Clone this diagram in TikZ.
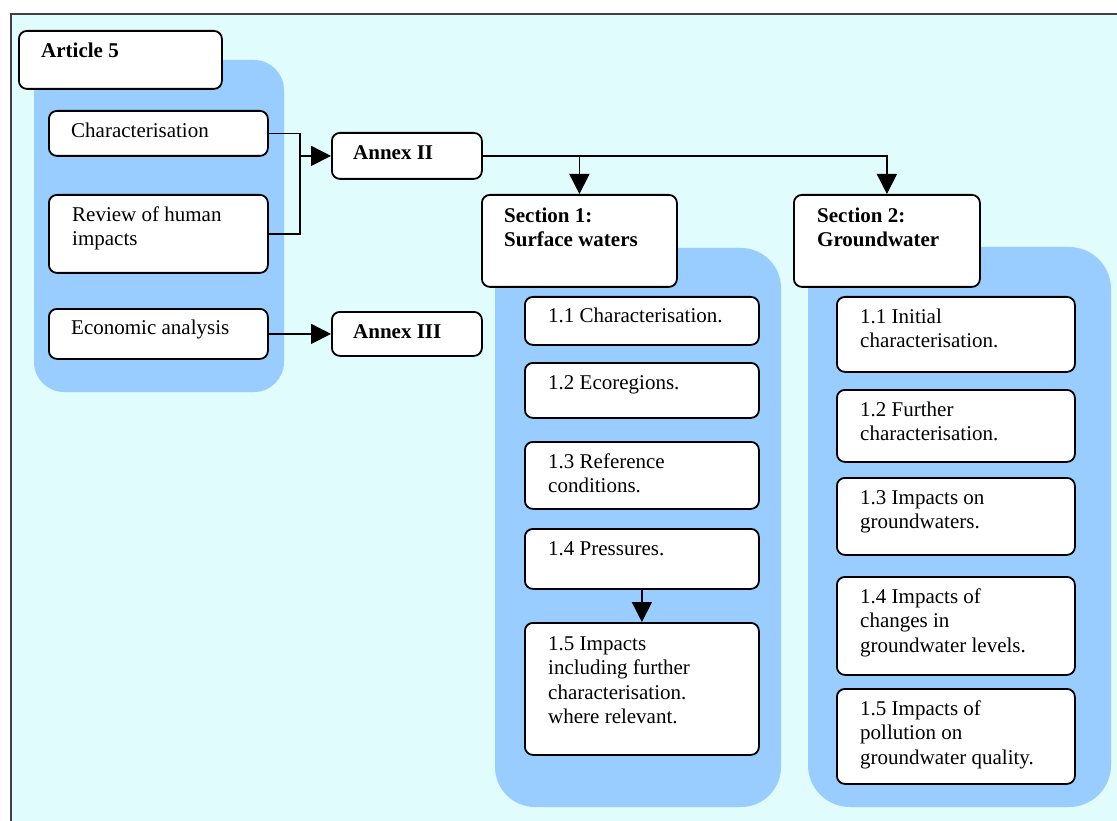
\documentclass[tikz,border=0pt]{standalone}
\usepackage{fontspec}
\setmainfont{Liberation Serif}
\usetikzlibrary{arrows.meta}
\definecolor{skyfill}{RGB}{224,252,252}
\definecolor{panelblue}{RGB}{153,204,255}
\begin{document}
\begin{tikzpicture}[x=1pt,y=-1pt,
  frame/.style={draw=black!75,line width=2pt,fill=skyfill},
  panel/.style={fill=panelblue,rounded corners=#1},
  box/.style={draw,line width=1.8pt,fill=white,rounded corners=8pt,anchor=north west,inner sep=0pt},
  txt/.style={anchor=north west,inner sep=0pt,align=left,font=\fontsize{21}{24.5}\selectfont},
  hd/.style={txt,font=\fontsize{21}{24.5}\selectfont\bfseries},
  link/.style={line width=1.6pt},
  arr/.style={link,-{Triangle[length=20pt,width=20pt]}}]
\useasboundingbox (0,0) rectangle (1117,821);
\draw[frame] (11,14) rectangle (1130,830);
% shaded groups
\fill[panel=30pt] (34,60) rectangle (284,392);
\fill[panel=40pt] (495,248) rectangle (781,807);
\fill[panel=42pt] (808,247) rectangle (1111,807);
% Article 5
\node[box,minimum width=203pt,minimum height=58pt] (art) at (18,30) {};
\node[hd] (art-t) at ([shift={(23,10)}]art.north west) {\strut Article 5};
\node[box,minimum width=219pt,minimum height=45pt] (char) at (48,110) {};
\node[txt] (char-t) at ([shift={(23,10)}]char.north west) {\strut Characterisation};
\node[box,minimum width=219pt,minimum height=78pt] (rev) at (48,194) {};
\node[txt] (rev-t) at ([shift={(24,10)}]rev.north west) {\strut Review of human\\impacts};
\node[box,minimum width=219pt,minimum height=50pt] (econ) at (48,308) {};
\node[txt] (econ-t) at ([shift={(23,9)}]econ.north west) {\strut Economic analysis};
% annexes
\node[box,minimum width=150pt,minimum height=46pt] (ax2) at (331,132) {};
\node[hd] (ax2-t) at ([shift={(22,10)}]ax2.north west) {\strut Annex II};
\node[box,minimum width=150pt,minimum height=44pt] (ax3) at (331,311) {};
\node[hd] (ax3-t) at ([shift={(22,10)}]ax3.north west) {\strut Annex III};
% sections
\node[box,minimum width=195pt,minimum height=92pt] (s1) at (481,194) {};
\node[hd] (s1-t) at ([shift={(23,11)}]s1.north west) {\strut Section 1:\\Surface waters};
\node[box,minimum width=186pt,minimum height=92pt] (s2) at (793,194) {};
\node[hd] (s2-t) at ([shift={(24,11)}]s2.north west) {\strut Section 2:\\Groundwater};
% surface waters
\node[box,minimum width=234pt,minimum height=48pt] (a11) at (524,296) {};
\node[txt] (a11-t) at ([shift={(24,9)}]a11.north west) {\strut 1.1 Characterisation.};
\node[box,minimum width=234pt,minimum height=55pt] (a12) at (524,362) {};
\node[txt] (a12-t) at ([shift={(24,10)}]a12.north west) {\strut 1.2 Ecoregions.};
\node[box,minimum width=234pt,minimum height=67pt] (a13) at (524,441) {};
\node[txt] (a13-t) at ([shift={(24,10)}]a13.north west) {\strut 1.3 Reference\\conditions.};
\node[box,minimum width=234pt,minimum height=60pt] (a14) at (524,528) {};
\node[txt] (a14-t) at ([shift={(24,10)}]a14.north west) {\strut 1.4 Pressures.};
\node[box,minimum width=234pt,minimum height=132pt] (a15) at (524,622) {};
\node[txt] (a15-t) at ([shift={(24,11)}]a15.north west) {\strut 1.5 Impacts\\including further\\characterisation.\\where relevant.};
% groundwater
\node[box,minimum width=238pt,minimum height=75pt] (b11) at (836,296) {};
\node[txt] (b11-t) at ([shift={(24,10)}]b11.north west) {\strut 1.1 Initial\\characterisation.};
\node[box,minimum width=238pt,minimum height=72pt] (b12) at (836,389) {};
\node[txt] (b12-t) at ([shift={(24,10)}]b12.north west) {\strut 1.2 Further\\characterisation.};
\node[box,minimum width=238pt,minimum height=77pt] (b13) at (836,477) {};
\node[txt] (b13-t) at ([shift={(24,10)}]b13.north west) {\strut 1.3 Impacts on\\groundwaters.};
\node[box,minimum width=238pt,minimum height=98pt] (b14) at (836,576) {};
\node[txt] (b14-t) at ([shift={(24,10)}]b14.north west) {\strut 1.4 Impacts of\\changes in\\groundwater levels.};
\node[box,minimum width=238pt,minimum height=95pt] (b15) at (836,688) {};
\node[txt] (b15-t) at ([shift={(24,10)}]b15.north west) {\strut 1.5 Impacts of\\pollution on\\groundwater quality.};
% connectors
\coordinate (fork) at ([xshift=31pt]char.east);
\draw[link] (char.east) -- (fork) |- (rev.east);
\draw[arr] (fork |- ax2.west) -- (ax2.west);
\draw[arr] (econ.east) -- (ax3.west);
\draw[arr] (ax2.east) -| (s2.north);
\draw[arr] (ax2.east -| s1.north) -- (s1.north);
\draw[arr] (a14.south) -- (a15.north);
\end{tikzpicture}
\end{document}
